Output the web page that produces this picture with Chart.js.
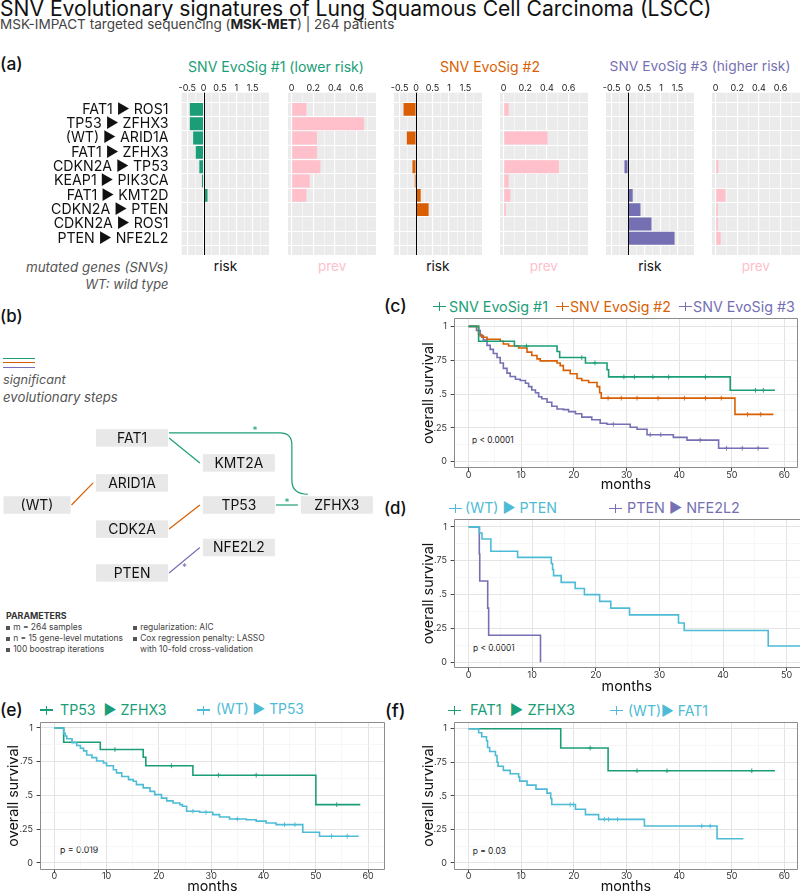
<!DOCTYPE html>
<html>
<head>
<meta charset="utf-8">
<title>SNV Evolutionary signatures of LSCC</title>
<script src="https://cdn.jsdelivr.net/npm/chart.js@4.4.1/dist/chart.umd.min.js"></script>
<style>
  html, body { margin: 0; padding: 0; }
  body { position: relative; width: 800px; height: 892px; overflow: hidden; background: #fff;
         font-family: Inter, 'Liberation Sans', sans-serif; color: #111; }
  .t { position: absolute; white-space: nowrap; line-height: 1; }
  canvas { position: absolute; }
  .key { position: absolute; width: 13px; height: 1.4px; }
  .key i { position: absolute; left: 5.8px; top: -3.8px; width: 1.4px; height: 9px; background: inherit; }
  .bul { display: inline-block; width: 0.5em; height: 0.5em; background: #555; margin-right: 0.35em; vertical-align: 0.05em; }
</style>
</head>
<body>
<script>
// ==========================================
// DATA
// ==========================================

// (a) evolutionary steps: risk (Cox coefficient) and prevalence per signature
const stepLabels = ['FAT1 ▶ ROS1', 'TP53 ▶ ZFHX3', '(WT) ▶ ARID1A', 'FAT1 ▶ ZFHX3', 'CDKN2A ▶ TP53',
                    'KEAP1 ▶ PIK3CA', 'FAT1 ▶ KMT2D', 'CDKN2A ▶ PTEN', 'CDKN2A ▶ ROS1', 'PTEN ▶ NFE2L2'];
const riskSig1 = [-0.42, -0.42, -0.32, -0.24, -0.13, -0.05, 0.12, 0, 0, 0];
const prevSig1 = [0.136, 0.67, 0.234, 0.234, 0.266, 0.167, 0.136, 0, 0, 0];
const riskSig2 = [-0.38, 0, -0.28, 0, -0.11, -0.04, 0.14, 0.38, 0, 0];
const prevSig2 = [0.046, 0, 0.405, 0, 0.51, 0.046, 0.062, 0.02, 0, 0];
const riskSig3 = [0, 0, 0, 0, -0.11, 0, 0.14, 0.375, 0.71, 1.41];
const prevSig3 = [0, 0, 0, 0, 0.025, 0, 0.09, 0.02, 0.02, 0.046];
const riskTicks = [-0.5, 0, 0.5, 1, 1.5];
const riskMinor = [-0.25, 0.25, 0.75, 1.25, 1.75];
const prevTicks = [0, 0.2, 0.4, 0.6];
const prevMinor = [0.1, 0.3, 0.5, 0.7];

// (b) graph of significant evolutionary steps (column / row units)
const nodeNames = ['FAT1', 'KMT2A', 'ARID1A', '(WT)', 'TP53', 'ZFHX3', 'CDK2A', 'NFE2L2', 'PTEN'];
const nodeCol = [0.97, 2.06, 0.97, 0, 2.06, 3.06, 0.97, 2.06, 0.97];
const nodeRow = [-2.98, -1.87, -0.98, 0, 0, 0, 1.07, 1.89, 3.02];
const edgeFrom = ['FAT1', 'FAT1', '(WT)', 'TP53', 'CDK2A', 'PTEN'];
const edgeTo = ['KMT2A', 'ZFHX3', 'ARID1A', 'ZFHX3', 'TP53', 'NFE2L2'];
const edgeSig = [1, 1, 2, 1, 2, 3];
const edgeStar = [false, true, false, true, false, true];
const edgeCurve = [false, true, false, false, false, false];

// (c)-(f) Kaplan-Meier curves
const monthTicks = [0, 10, 20, 30, 40, 50, 60];
const monthMinor = [5, 15, 25, 35, 45, 55];
const survTicks = [0, 0.25, 0.5, 0.75, 1];
const survMinor = [0.125, 0.375, 0.625, 0.875];
const survTickLabels = ['0', '.25', '.5', '.75', '1'];

const cSig1Time = [0, 1.9, 8.7, 16.8, 17.3, 22.2, 26.3, 26.6, 49.7, 58.2];
const cSig1Surv = [1, 0.89, 0.855, 0.815, 0.77, 0.73, 0.68, 0.627, 0.528, 0.528];
const cSig1Cens = [11, 21.5, 24, 29.5, 31.5, 35, 38, 45, 54.5, 56];
const cSig2Time = [0, 1.9, 2.5, 3.5, 6.0, 6.6, 7.6, 9.5, 11.1, 12.0, 13.0, 13.6, 16.8, 17.4, 18.0, 19.3, 20.6, 21.5, 22.8, 24.4, 24.9, 25.2, 50.6, 57.9];
const cSig2Surv = [1, 0.94, 0.92, 0.905, 0.89, 0.87, 0.855, 0.84, 0.81, 0.785, 0.76, 0.745, 0.73, 0.71, 0.675, 0.65, 0.615, 0.6, 0.585, 0.555, 0.51, 0.47, 0.35, 0.35];
const cSig2Cens = [26.5, 29, 32, 36, 41, 45, 48, 53, 55.5];
const cSig3Time = [0, 1.5, 2.2, 2.8, 3.5, 4.1, 4.7, 5.4, 6.0, 6.6, 7.3, 7.9, 8.9, 9.8, 10.8, 11.4, 12.0, 12.7, 13.3, 13.9, 14.9, 15.8, 16.8, 18.0, 19.0, 20.3, 21.5, 23.4, 25.0, 26.3, 30.7, 32.0, 33.9, 38.9, 41.5, 47.5, 57.0];
const cSig3Surv = [1, 0.97, 0.93, 0.9, 0.86, 0.83, 0.8, 0.77, 0.73, 0.69, 0.655, 0.63, 0.61, 0.6, 0.58, 0.555, 0.53, 0.51, 0.48, 0.465, 0.44, 0.41, 0.39, 0.385, 0.37, 0.355, 0.33, 0.31, 0.285, 0.277, 0.255, 0.24, 0.2, 0.18, 0.16, 0.1, 0.1];
const cSig3Cens = [27.5, 34.5, 36.5, 44, 49, 52, 55];

const dWtPtenTime = [0, 1.7, 2.1, 3.5, 7.7, 13.0, 13.2, 13.35, 14.55, 16.75, 18.2, 20.6, 22.35, 25.3, 33.0, 33.9, 47.1, 56];
const dWtPtenSurv = [1, 0.955, 0.91, 0.82, 0.775, 0.73, 0.685, 0.64, 0.59, 0.545, 0.5, 0.45, 0.4, 0.35, 0.29, 0.235, 0.12, 0.12];
const dPtenNfeTime = [0, 1.68, 1.75, 3.0, 3.15, 11.3];
const dPtenNfeSurv = [1, 0.8, 0.6, 0.4, 0.2, 0];

const eTp53ZfTime = [0, 1.8, 8.8, 17.0, 17.5, 26.5, 50.0, 58.5];
const eTp53ZfSurv = [1, 0.894, 0.84, 0.783, 0.72, 0.65, 0.432, 0.432];
const eTp53ZfCens = [11.6, 22.4, 31.4, 38.6, 54];
const eWtTp53Time = [0, 1.8, 2.1, 2.4, 3.4, 4.3, 5.0, 5.6, 6.2, 7.2, 8.1, 9.4, 10.0, 11.3, 11.9, 12.9, 14.2, 15.1, 15.7, 17.0, 18.3, 19.2, 20.5, 21.5, 22.7, 24.0, 24.5, 25.3, 27.8, 30.3, 31.6, 33.5, 36.7, 38.6, 40.5, 42.4, 47.5, 50.7, 58.2];
const eWtTp53Surv = [1, 0.96, 0.94, 0.92, 0.89, 0.87, 0.85, 0.83, 0.8, 0.78, 0.755, 0.74, 0.72, 0.69, 0.667, 0.64, 0.617, 0.605, 0.58, 0.556, 0.53, 0.506, 0.48, 0.46, 0.444, 0.432, 0.42, 0.383, 0.375, 0.358, 0.34, 0.326, 0.32, 0.31, 0.296, 0.284, 0.227, 0.198, 0.198];
const eWtTp53Cens = [26.5, 29, 35, 44, 46, 53, 56];

const fFatZfTime = [0, 17.5, 26.5, 58.2];
const fFatZfSurv = [1, 0.856, 0.687, 0.687];
const fFatZfCens = [23.1, 32, 37.7, 53.8];
const fWtFatTime = [0, 1.9, 2.5, 3.4, 3.6, 4.0, 5.1, 5.4, 5.6, 6.6, 7.9, 9.5, 9.7, 11.1, 12.8, 14.9, 15.6, 15.8, 20.3, 22.2, 24.7, 33.4, 47.2, 52.2];
const fWtFatSurv = [1, 0.97, 0.94, 0.91, 0.86, 0.83, 0.8, 0.75, 0.72, 0.69, 0.665, 0.64, 0.61, 0.58, 0.55, 0.52, 0.48, 0.435, 0.4, 0.36, 0.325, 0.275, 0.18, 0.18];
const fWtFatCens = [19.3, 19.9, 25.8, 26.6, 28.3, 44.3, 45.9];

// ==========================================
// STYLE / HELPERS
// ==========================================
const GREEN = '#1B9E77', ORANGE = '#D95F02', PURPLE = '#7570B3', CYAN = '#4DBBD5', PINK = '#FFC0CB';
const sigColors = [GREEN, ORANGE, PURPLE];
const FONT = "Inter, 'Liberation Sans', sans-serif";
Chart.defaults.font.family = FONT;
Chart.defaults.animation = false;

const measureCtx = document.createElement('canvas').getContext('2d');
// font size that makes `text` as wide as in the reference
function fitFont(text, targetW, weight) {
  measureCtx.font = (weight ? weight + ' ' : '') + '100px ' + FONT;
  return 100 * targetW / measureCtx.measureText(text).width;
}

function addCanvas(left, top, w, h) {
  const c = document.createElement('canvas');
  c.width = Math.round(w); c.height = Math.round(h);
  c.style.left = left + 'px'; c.style.top = top + 'px';
  c.style.width = Math.round(w) + 'px'; c.style.height = Math.round(h) + 'px';
  document.body.appendChild(c);
  return c;
}

// y = centre of capital letters; targetW = width of the text in the reference
function addText(html, x, y, size, css, align, targetW) {
  const d = document.createElement('div');
  d.className = 't';
  d.innerHTML = html;
  d.style.left = x + 'px';
  d.style.fontSize = size + 'px';
  if (align === 'center') d.style.transform = 'translateX(-50%)';
  if (align === 'right') d.style.transform = 'translateX(-100%)';
  Object.assign(d.style, css || {});
  document.body.appendChild(d);
  if (targetW) {
    size = size * targetW / d.getBoundingClientRect().width;
    d.style.fontSize = size + 'px';
  }
  d.style.top = (y - size * 0.5) + 'px';
  return d;
}

function addKey(x, y, color) {
  const k = document.createElement('div');
  k.className = 'key';
  k.style.left = x + 'px'; k.style.top = (y - 0.7) + 'px'; k.style.background = color;
  k.appendChild(document.createElement('i'));
  document.body.appendChild(k);
}

function survAt(times, surv, t) {
  let v = surv[0];
  for (let i = 0; i < times.length; i++) if (times[i] <= t) v = surv[i];
  return v;
}

// ==========================================
// TEXT
// ==========================================
addText('SNV Evolutionary signatures of Lung Squamous Cell Carcinoma (LSCC)', 0, 8.7, 20, {color: '#111'}, null, 712);
addText('MSK-IMPACT targeted sequencing (<b style="color:#222">MSK-MET</b>) | 264 patients', 0, 24.75, 12.5, {color: '#444'}, null, 395);

const tagCss = {fontWeight: 500, color: '#111'};
addText('(a)', 0, 64, 17, tagCss, null, 22.7);
addText('(b)', 0, 316.7, 17, tagCss, null, 22.7);
addText('(c)', 384, 306, 17, tagCss, null, 22.7);
addText('(d)', 384, 508, 17, tagCss, null, 22.7);
addText('(e)', 0, 710, 17, tagCss, null, 22.7);
addText('(f)', 385, 710, 17, tagCss, null, 20.5);

// (a) headings and axis names
addText('SNV EvoSig #1 (lower risk)', 276, 66.7, 13.5, {color: GREEN}, 'center', 176);
addText('SNV EvoSig #2', 490, 66.7, 13.5, {color: ORANGE}, 'center', 100);
addText('SNV EvoSig #3 (higher risk)', 700, 66.7, 13.5, {color: PURPLE}, 'center', 181);
const panelLefts = [181.7, 288.3, 394, 500, 606, 712];
const PANEL_W = 87.6;
panelLefts.forEach((l, i) => {
  const isPrev = i % 2 === 1;
  addText(isPrev ? 'prev' : 'risk', l + PANEL_W / 2, 266.6, 14, {color: isPrev ? PINK : '#111'}, 'center', isPrev ? 28.3 : 23.3);
});
const itCss = {fontStyle: 'italic', color: '#555'};
addText('mutated genes (SNVs)', 168.5, 267.6, 13, itCss, 'right', 142.7);
addText('WT: wild type', 168.5, 285.3, 13, itCss, 'right', 83.3);

// (b) legend and parameters
[[358.3, GREEN], [362.3, ORANGE], [366.7, PURPLE]].forEach(([y, c]) => {
  const l = document.createElement('div');
  Object.assign(l.style, {position: 'absolute', left: '3px', top: y + 'px', width: '32px', height: '1.2px', background: c});
  document.body.appendChild(l);
});
addText('significant', 3, 380.6, 13, itCss, null, 62.7);
addText('evolutionary steps', 3, 398, 13, itCss, null, 115);
const paramSize = fitFont('n = 15 gene-level mutations', 110);
addText('PARAMETERS', 6, 616.4, 8, {fontWeight: 700, color: '#333'}, null, 60.7);
const pCss = {color: '#444'};
const bul = '<span class="bul"></span>';
addText(bul + 'm = 264 samples', 6, 627.4, paramSize, pCss);
addText(bul + 'n = 15 gene-level mutations', 6, 638.4, paramSize, pCss);
addText(bul + '100 boostrap iterations', 6, 649.4, paramSize, pCss);
addText(bul + 'regularization: AIC', 133, 627.4, paramSize, pCss);
addText(bul + 'Cox regression penalty: LASSO', 133, 638.4, paramSize, pCss);
addText('with 10-fold cross-validation', 140, 649.4, paramSize, pCss);

// KM legends
addKey(433, 306.7, GREEN);  addText('SNV EvoSig #1', 449, 306.7, 13, {color: GREEN}, null, 99);
addKey(556, 306.7, ORANGE); addText('SNV EvoSig #2', 570, 306.7, 13, {color: ORANGE}, null, 101);
addKey(679, 306.7, PURPLE); addText('SNV EvoSig #3', 693, 306.7, 13, {color: PURPLE}, null, 102);
addKey(449, 508.3, CYAN);   addText('(WT) ▶ PTEN', 465, 508.3, 14, {color: CYAN}, null, 92);
addKey(609, 508.3, PURPLE); addText('PTEN ▶ NFE2L2', 627, 508.3, 14, {color: PURPLE}, null, 113);
addKey(40, 710, GREEN);     addText('TP53 &nbsp;▶ ZFHX3', 60, 710, 14, {color: GREEN}, null, 106.7);
addKey(197, 710, CYAN);     addText('(WT) ▶ TP53', 216, 710, 14, {color: CYAN}, null, 88);
addKey(448, 710.7, GREEN);  addText('FAT1 &nbsp;▶ ZFHX3', 470, 710.7, 14, {color: GREEN}, null, 105);
addKey(610, 710.7, CYAN);   addText('(WT)▶ FAT1', 628, 710.7, 14, {color: CYAN}, null, 80);

const pvCss = {color: '#222'};
addText('p &lt; 0.0001', 472, 440, 8.5, pvCss, null, 41.7);
addText('p &lt; 0.0001', 473, 647.7, 8.5, pvCss, null, 41.7);
addText('p = 0.019', 60, 850, 8.5, pvCss, null, 38.3);
addText('p = 0.03', 472.7, 851.7, 8.5, pvCss, null, 33.3);

// ==========================================
// (a) BAR PANELS
// ==========================================
const A_TOP = 78, A_PLOT_TOP = 92.7, A_PLOT_BOTTOM = 255;
const ROW_FONT = fitFont('CDKN2A ▶ TP53', 115.7);

const panelBg = {
  id: 'panelBg',
  beforeDraw(chart) {
    const {ctx, chartArea: a} = chart;
    ctx.save();
    ctx.fillStyle = '#EBEBEB';
    ctx.fillRect(a.left, a.top, a.right - a.left, a.bottom - a.top);
    ctx.restore();
  }
};
const zeroLine = {
  id: 'zeroLine',
  afterDatasetsDraw(chart) {
    const {ctx, chartArea: a, scales: {x}} = chart;
    const px = Math.round(x.getPixelForValue(0)) + 0.5;
    ctx.save();
    ctx.strokeStyle = '#000';
    ctx.lineWidth = 1;
    ctx.beginPath(); ctx.moveTo(px, a.top); ctx.lineTo(px, a.bottom); ctx.stroke();
    ctx.restore();
  }
};

function barPanel(plotLeft, values, color, isRisk, withLabels) {
  const major = isRisk ? riskTicks : prevTicks;
  const minor = isRisk ? riskMinor : prevMinor;
  const xmin = isRisk ? -0.67 : -0.034;
  const xmax = isRisk ? 2.0 : 0.78;
  const left = withLabels ? 0 : plotLeft - 14;
  const canvas = addCanvas(left, A_TOP, plotLeft + PANEL_W + 14 - left, A_PLOT_BOTTOM - A_TOP);
  new Chart(canvas, {
    type: 'bar',
    data: {
      datasets: [{
        data: values.map((v, i) => ({x: v, y: i})),
        backgroundColor: color,
        barPercentage: 0.9,
        categoryPercentage: 1,
      }],
    },
    options: {
      indexAxis: 'y',
      responsive: false,
      events: [],
      layout: {padding: {left: withLabels ? 0 : 14, right: 14, top: 0, bottom: 0}},
      plugins: {legend: {display: false}, tooltip: {enabled: false}},
      scales: {
        x: {
          type: 'linear',
          position: 'top',
          min: xmin,
          max: xmax,
          afterBuildTicks: (sc) => { sc.ticks = major.concat(minor).sort((a, b) => a - b).map((v) => ({value: v})); },
          afterFit: (sc) => { sc.height = A_PLOT_TOP - A_TOP; sc.paddingLeft = 0; sc.paddingRight = 0; },
          ticks: {
            autoSkip: false, maxRotation: 0, padding: 0, color: '#222',
            font: {size: 9, lineHeight: 1},
            callback: (v) => (major.includes(v) ? String(v) : ''),
          },
          grid: {
            color: '#fff',
            lineWidth: (ctx) => (major.includes(ctx.tick.value) ? 1.1 : 0.5),
            drawTicks: false,
          },
          border: {display: false},
        },
        y: {
          type: 'linear',
          reverse: true,
          min: -0.6,
          max: 9.6,
          afterBuildTicks: (sc) => { sc.ticks = stepLabels.map((_, i) => ({value: i})); },
          afterFit: (sc) => { sc.width = withLabels ? plotLeft : 0; sc.paddingTop = 0; sc.paddingBottom = 0; },
          ticks: {
            display: withLabels, autoSkip: false, padding: 13.2, color: '#111',
            font: {size: ROW_FONT},
            callback: (v) => stepLabels[v],
          },
          grid: {color: '#fff', lineWidth: 1.1, drawTicks: false},
          border: {display: false},
        },
      },
    },
    plugins: isRisk ? [panelBg, zeroLine] : [panelBg],
  });
}

barPanel(panelLefts[0], riskSig1, GREEN, true, true);
barPanel(panelLefts[1], prevSig1, PINK, false, false);
barPanel(panelLefts[2], riskSig2, ORANGE, true, false);
barPanel(panelLefts[3], prevSig2, PINK, false, false);
barPanel(panelLefts[4], riskSig3, PURPLE, true, false);
barPanel(panelLefts[5], prevSig3, PINK, false, false);

// ==========================================
// (b) EVOLUTIONARY GRAPH
// ==========================================
const NODE_FONT = fitFont('KMT2A', 49);

const graphPlugin = {
  id: 'graph',
  afterDatasetsDraw(chart) {
    const {ctx, scales: {x, y}} = chart;
    const pos = {};
    nodeNames.forEach((n, i) => {
      const w = n === '(WT)' ? 67 : 72;
      const cx = x.getPixelForValue(nodeCol[i]);
      const cy = y.getPixelForValue(nodeRow[i]);
      pos[n] = {cx, cy, l: cx - w / 2, r: cx + w / 2, t: cy - 8.75, b: cy + 8.75};
    });
    ctx.save();
    ctx.lineWidth = 1.2;
    edgeFrom.forEach((f, i) => {
      const s = pos[f], e = pos[edgeTo[i]];
      const col = sigColors[edgeSig[i] - 1];
      let sx, sy;
      ctx.strokeStyle = col;
      ctx.beginPath();
      if (edgeCurve[i]) {
        const x1 = s.r + 1, y1 = s.cy - 5, vx = e.l - 9, ex = e.l + 7, ey = e.t - 2;
        ctx.moveTo(x1, y1);
        ctx.lineTo(vx - 12, y1);
        ctx.quadraticCurveTo(vx, y1, vx, y1 + 12);
        ctx.lineTo(vx, ey - 14);
        ctx.quadraticCurveTo(vx, ey, ex, ey);
        sx = x1 + 0.7 * (vx - x1); sy = y1 - 4;
      } else {
        const x1 = s.r + 1, y1 = s.cy, x2 = e.l - 3, y2 = e.cy;
        ctx.moveTo(x1, y1);
        ctx.lineTo(x2, y2);
        sx = (x1 + x2) / 2; sy = (y1 + y2) / 2 + (y2 < y1 ? 5 : -5);
      }
      ctx.stroke();
      if (edgeStar[i]) {
        ctx.fillStyle = col;
        ctx.font = '10px ' + FONT;
        ctx.textAlign = 'center';
        ctx.textBaseline = 'middle';
        ctx.fillText('*', sx, sy + 2.5);
      }
    });
    ctx.font = NODE_FONT + 'px ' + FONT;
    ctx.textAlign = 'center';
    ctx.textBaseline = 'middle';
    Object.keys(pos).forEach((n) => {
      const p = pos[n];
      ctx.fillStyle = '#E8E8E8';
      ctx.fillRect(p.l, p.t, p.r - p.l, p.b - p.t);
      ctx.fillStyle = '#111';
      ctx.fillText(n, p.cx, p.cy + 0.5);
    });
    ctx.restore();
  }
};

new Chart(addCanvas(0, 420, 400, 170), {
  type: 'scatter',
  data: {datasets: [{data: nodeNames.map((n, i) => ({x: nodeCol[i], y: nodeRow[i]})), pointRadius: 0}]},
  options: {
    responsive: false,
    events: [],
    layout: {padding: 0},
    plugins: {legend: {display: false}, tooltip: {enabled: false}},
    scales: {
      x: {type: 'linear', display: false, min: -0.3776, max: 3.7041},
      y: {type: 'linear', display: false, reverse: true, min: -3.7778, max: 3.7778},
    },
  },
  plugins: [graphPlugin],
});

// ==========================================
// (c)-(f) KAPLAN-MEIER PANELS
// ==========================================
const TITLE_SIZE = (fitFont('months', 47.3) + fitFont('overall survival', 108)) / 2;

function framePlugin(openRight) {
  return {
    id: 'frame',
    afterDatasetsDraw(chart) {
      const {ctx, chartArea: a} = chart;
      ctx.save();
      ctx.strokeStyle = '#8c8c8c';
      ctx.lineWidth = 1;
      ctx.beginPath();
      const l = Math.round(a.left) + 0.5, t = Math.round(a.top) + 0.5;
      const r = Math.round(a.right) - 0.5, b = Math.round(a.bottom) - 0.5;
      if (openRight) {
        ctx.moveTo(a.right + 2, t); ctx.lineTo(l, t); ctx.lineTo(l, b); ctx.lineTo(a.right + 2, b);
      } else {
        ctx.rect(l, t, r - l, b - t);
      }
      ctx.stroke();
      ctx.restore();
    }
  };
}

function kmPanel(cfg) {
  const lh = TITLE_SIZE * 1.2;
  const left = cfg.yTitleX - lh / 2;
  const top = cfg.plot.top - 6;
  const right = cfg.plot.right + 4;
  const bottom = cfg.xTitleY + lh / 2;
  const canvas = addCanvas(left, top, right - left, bottom - top);
  const yw = cfg.plot.left - left;
  const xh = bottom - cfg.plot.bottom;

  const datasets = [];
  cfg.series.forEach((s) => {
    datasets.push({
      type: 'line',
      data: s.time.map((t, i) => ({x: t, y: s.surv[i]})),
      borderColor: s.color,
      borderWidth: 1.6,
      stepped: true,
      pointRadius: 0,
      fill: false,
    });
    if (s.cens) {
      datasets.push({
        type: 'scatter',
        data: s.cens.map((t) => ({x: t, y: survAt(s.time, s.surv, t)})),
        pointStyle: 'cross',
        pointRadius: 2.4,
        borderWidth: 0.9,
        borderColor: s.color,
      });
    }
  });

  const xTicks = monthTicks.concat(monthMinor).filter((v) => v >= cfg.x[0] && v <= cfg.x[1]).sort((a, b) => a - b);
  const yTicks = survTicks.concat(survMinor).sort((a, b) => a - b);

  new Chart(canvas, {
    type: 'line',
    data: {datasets},
    options: {
      responsive: false,
      events: [],
      layout: {padding: {top: 6, right: 4, left: 0, bottom: 0}},
      plugins: {legend: {display: false}, tooltip: {enabled: false}},
      scales: {
        x: {
          type: 'linear',
          min: cfg.x[0],
          max: cfg.x[1],
          afterBuildTicks: (sc) => { sc.ticks = xTicks.map((v) => ({value: v})); },
          afterFit: (sc) => { sc.height = xh; sc.paddingLeft = 0; sc.paddingRight = 0; },
          ticks: {
            autoSkip: false, maxRotation: 0, padding: -0.5, color: '#333',
            font: {size: 9, lineHeight: 1},
            callback: (v) => (monthTicks.includes(v) ? String(v) : ''),
          },
          grid: {
            color: (ctx) => (monthTicks.includes(ctx.tick.value) ? '#E4E4E4' : '#F1F1F1'),
            lineWidth: (ctx) => (monthTicks.includes(ctx.tick.value) ? 1 : 0.6),
            tickLength: 3,
            tickColor: (ctx) => (monthTicks.includes(ctx.tick.value) ? '#444' : 'rgba(0,0,0,0)'),
          },
          border: {display: false},
          title: {display: true, text: 'months', padding: 0, color: '#111', font: {size: TITLE_SIZE}},
        },
        y: {
          type: 'linear',
          min: cfg.y[0],
          max: cfg.y[1],
          afterBuildTicks: (sc) => { sc.ticks = yTicks.map((v) => ({value: v})); },
          afterFit: (sc) => { sc.width = yw; sc.paddingTop = 0; sc.paddingBottom = 0; },
          ticks: {
            autoSkip: false, padding: 3.6, color: '#333',
            font: {size: 9, lineHeight: 1},
            callback: (v) => { const k = survTicks.indexOf(v); return k >= 0 ? survTickLabels[k] : ''; },
          },
          grid: {
            color: (ctx) => (survTicks.includes(ctx.tick.value) ? '#E4E4E4' : '#F1F1F1'),
            lineWidth: (ctx) => (survTicks.includes(ctx.tick.value) ? 1 : 0.6),
            tickLength: 3,
            tickColor: (ctx) => (survTicks.includes(ctx.tick.value) ? '#444' : 'rgba(0,0,0,0)'),
          },
          border: {display: false},
          title: {display: true, text: 'overall survival', padding: 0, color: '#111', font: {size: TITLE_SIZE}},
        },
      },
    },
    plugins: [framePlugin(cfg.openRight)],
  });
}

// (c) signatures
kmPanel({
  plot: {left: 453.3, top: 318.3, right: 798.3, bottom: 469},
  x: [-2.85, 62.6], y: [-0.049, 1.062], yTitleX: 428.3, xTitleY: 485,
  series: [
    {time: cSig1Time, surv: cSig1Surv, cens: cSig1Cens, color: GREEN},
    {time: cSig2Time, surv: cSig2Surv, cens: cSig2Cens, color: ORANGE},
    {time: cSig3Time, surv: cSig3Surv, cens: cSig3Cens, color: PURPLE},
  ],
});

// (d) (WT) > PTEN vs PTEN > NFE2L2
kmPanel({
  plot: {left: 453.3, top: 519.3, right: 800, bottom: 668.3},
  x: [-2.36, 52.1], y: [-0.042, 1.058], yTitleX: 428.3, xTitleY: 686.7, openRight: true,
  series: [
    {time: dWtPtenTime, surv: dWtPtenSurv, color: CYAN},
    {time: dPtenNfeTime, surv: dPtenNfeSurv, color: PURPLE},
  ],
});

// (e) TP53 > ZFHX3 vs (WT) > TP53
kmPanel({
  plot: {left: 39.3, top: 722.3, right: 386, bottom: 870},
  x: [-2.8, 63.24], y: [-0.05, 1.044], yTitleX: 13.3, xTitleY: 886.7,
  series: [
    {time: eWtTp53Time, surv: eWtTp53Surv, cens: eWtTp53Cens, color: CYAN},
    {time: eTp53ZfTime, surv: eTp53ZfSurv, cens: eTp53ZfCens, color: GREEN},
  ],
});

// (f) FAT1 > ZFHX3 vs (WT) > FAT1
kmPanel({
  plot: {left: 453.3, top: 722.3, right: 798.3, bottom: 870},
  x: [-2.85, 62.6], y: [-0.05, 1.05], yTitleX: 428.3, xTitleY: 886.7,
  series: [
    {time: fWtFatTime, surv: fWtFatSurv, cens: fWtFatCens, color: CYAN},
    {time: fFatZfTime, surv: fFatZfSurv, cens: fFatZfCens, color: GREEN},
  ],
});
</script>
</body>
</html>
